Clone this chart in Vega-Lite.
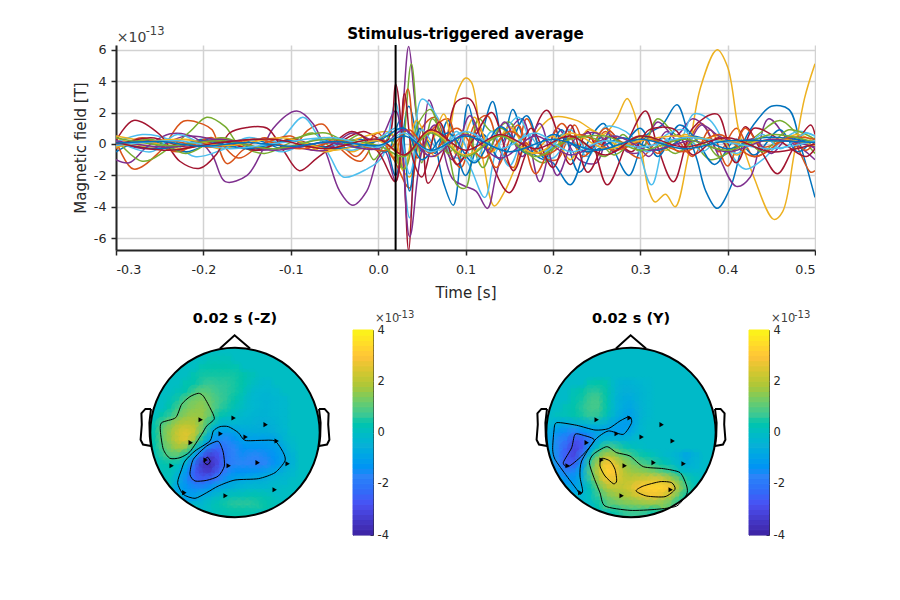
{"$schema":"https://vega.github.io/schema/vega-lite/v6.json","background":"white","padding":{"left":73,"top":26,"right":0,"bottom":0},"autosize":{"type":"pad"},"bounds":"flush","spacing":80,
"config":{"font":"DejaVu Sans","axis":{"labelFont":"DejaVu Sans","titleFont":"DejaVu Sans","labelColor":"#262626","titleColor":"#262626"},"view":{"stroke":null},"title":{"font":"DejaVu Sans"}},
"datasets":{
"lines":[
{"s":"a","t":-0.3,"v":-0.5},{"s":"a","t":-0.27,"v":0.2},{"s":"a","t":-0.24,"v":-0.3},{"s":"a","t":-0.2,"v":0.3},{"s":"a","t":-0.17,"v":-0.2},{"s":"a","t":-0.14,"v":0.25},{"s":"a","t":-0.11,"v":-0.3},{"s":"a","t":-0.08,"v":-0.1},{"s":"a","t":-0.05,"v":0.3},{"s":"a","t":-0.02,"v":-0.2},{"s":"a","t":0.005,"v":0.3},{"s":"a","t":0.02,"v":-2},{"s":"a","t":0.035,"v":2.4},{"s":"a","t":0.05,"v":-0.5},{"s":"a","t":0.06,"v":0.9},{"s":"a","t":0.075,"v":-2.5},{"s":"a","t":0.086,"v":-3.9},{"s":"a","t":0.095,"v":-0.5},{"s":"a","t":0.103,"v":2.5},{"s":"a","t":0.115,"v":0.3},{"s":"a","t":0.131,"v":2.7},{"s":"a","t":0.143,"v":0.2},{"s":"a","t":0.154,"v":2.2},{"s":"a","t":0.17,"v":-0.2},{"s":"a","t":0.185,"v":-0.9},{"s":"a","t":0.2,"v":-1.2},{"s":"a","t":0.22,"v":-2.6},{"s":"a","t":0.24,"v":0.1},{"s":"a","t":0.258,"v":1.3},{"s":"a","t":0.27,"v":-0.4},{"s":"a","t":0.287,"v":-2},{"s":"a","t":0.3,"v":-0.3},{"s":"a","t":0.308,"v":0.6},{"s":"a","t":0.325,"v":1.2},{"s":"a","t":0.342,"v":2.5},{"s":"a","t":0.355,"v":0.6},{"s":"a","t":0.365,"v":-1},{"s":"a","t":0.375,"v":-3},{"s":"a","t":0.388,"v":-4.1},{"s":"a","t":0.403,"v":-2.8},{"s":"a","t":0.419,"v":0.2},{"s":"a","t":0.435,"v":1.6},{"s":"a","t":0.45,"v":2.4},{"s":"a","t":0.47,"v":2.2},{"s":"a","t":0.484,"v":-0.2},{"s":"a","t":0.5,"v":-3.4},
{"s":"b","t":-0.3,"v":0.2},{"s":"b","t":-0.28,"v":-1.6},{"s":"b","t":-0.25,"v":-0.5},{"s":"b","t":-0.223,"v":1.45},{"s":"b","t":-0.2,"v":1.25},{"s":"b","t":-0.19,"v":0.9},{"s":"b","t":-0.173,"v":-1.25},{"s":"b","t":-0.155,"v":-0.4},{"s":"b","t":-0.13,"v":0.4},{"s":"b","t":-0.1,"v":-0.3},{"s":"b","t":-0.08,"v":0.9},{"s":"b","t":-0.063,"v":1.25},{"s":"b","t":-0.045,"v":-0.2},{"s":"b","t":-0.02,"v":-1.1},{"s":"b","t":0,"v":0.4},{"s":"b","t":0.018,"v":-1},{"s":"b","t":0.036,"v":-2.8},{"s":"b","t":0.05,"v":1},{"s":"b","t":0.065,"v":1.7},{"s":"b","t":0.08,"v":-0.3},{"s":"b","t":0.095,"v":-1.5},{"s":"b","t":0.11,"v":1.2},{"s":"b","t":0.125,"v":1.8},{"s":"b","t":0.14,"v":-0.5},{"s":"b","t":0.155,"v":-1.5},{"s":"b","t":0.17,"v":1.6},{"s":"b","t":0.19,"v":-0.8},{"s":"b","t":0.205,"v":-1},{"s":"b","t":0.225,"v":1.2},{"s":"b","t":0.24,"v":-0.6},{"s":"b","t":0.26,"v":0.8},{"s":"b","t":0.28,"v":-0.2},{"s":"b","t":0.3,"v":-0.9},{"s":"b","t":0.325,"v":0.4},{"s":"b","t":0.345,"v":-0.5},{"s":"b","t":0.37,"v":1.3},{"s":"b","t":0.39,"v":-0.5},{"s":"b","t":0.41,"v":1},{"s":"b","t":0.43,"v":-0.8},{"s":"b","t":0.45,"v":-0.3},{"s":"b","t":0.47,"v":0.5},{"s":"b","t":0.495,"v":-1.8},{"s":"b","t":0.5,"v":-1.7},
{"s":"c","t":-0.3,"v":0.4},{"s":"c","t":-0.26,"v":-0.2},{"s":"c","t":-0.22,"v":0.3},{"s":"c","t":-0.18,"v":-0.3},{"s":"c","t":-0.14,"v":0.3},{"s":"c","t":-0.1,"v":-0.2},{"s":"c","t":-0.06,"v":0.4},{"s":"c","t":-0.03,"v":-0.5},{"s":"c","t":0,"v":0.3},{"s":"c","t":0.02,"v":-1},{"s":"c","t":0.036,"v":-2.1},{"s":"c","t":0.05,"v":0.5},{"s":"c","t":0.065,"v":-0.8},{"s":"c","t":0.08,"v":0.5},{"s":"c","t":0.09,"v":3.2},{"s":"c","t":0.1,"v":4.2},{"s":"c","t":0.107,"v":3.9},{"s":"c","t":0.12,"v":-1},{"s":"c","t":0.133,"v":-3.95},{"s":"c","t":0.145,"v":-3},{"s":"c","t":0.166,"v":-0.4},{"s":"c","t":0.185,"v":1},{"s":"c","t":0.2,"v":1.7},{"s":"c","t":0.227,"v":1.5},{"s":"c","t":0.245,"v":0.9},{"s":"c","t":0.258,"v":0.6},{"s":"c","t":0.272,"v":1.5},{"s":"c","t":0.285,"v":2.9},{"s":"c","t":0.293,"v":2},{"s":"c","t":0.3,"v":0.2},{"s":"c","t":0.31,"v":-3},{"s":"c","t":0.317,"v":-3.7},{"s":"c","t":0.329,"v":-3.2},{"s":"c","t":0.34,"v":-4},{"s":"c","t":0.354,"v":-1},{"s":"c","t":0.369,"v":3.6},{"s":"c","t":0.388,"v":6},{"s":"c","t":0.4,"v":4.9},{"s":"c","t":0.413,"v":0.8},{"s":"c","t":0.43,"v":-2.1},{"s":"c","t":0.453,"v":-4.8},{"s":"c","t":0.463,"v":-4.3},{"s":"c","t":0.476,"v":-0.7},{"s":"c","t":0.488,"v":2.9},{"s":"c","t":0.5,"v":5.1},
{"s":"d","t":-0.3,"v":-1},{"s":"d","t":-0.285,"v":-1.2},{"s":"d","t":-0.265,"v":-0.2},{"s":"d","t":-0.238,"v":0.65},{"s":"d","t":-0.21,"v":0.4},{"s":"d","t":-0.19,"v":-0.7},{"s":"d","t":-0.175,"v":-2.4},{"s":"d","t":-0.15,"v":-2},{"s":"d","t":-0.135,"v":-0.7},{"s":"d","t":-0.12,"v":1},{"s":"d","t":-0.093,"v":2.1},{"s":"d","t":-0.074,"v":1.25},{"s":"d","t":-0.059,"v":-0.65},{"s":"d","t":-0.044,"v":-3},{"s":"d","t":-0.029,"v":-3.9},{"s":"d","t":-0.013,"v":-3},{"s":"d","t":0,"v":-0.9},{"s":"d","t":0.008,"v":-0.5},{"s":"d","t":0.02,"v":-2.4},{"s":"d","t":0.028,"v":2},{"s":"d","t":0.035,"v":6.2},{"s":"d","t":0.043,"v":2.2},{"s":"d","t":0.05,"v":-0.2},{"s":"d","t":0.058,"v":2.8},{"s":"d","t":0.07,"v":0.8},{"s":"d","t":0.085,"v":-2.2},{"s":"d","t":0.1,"v":-2.7},{"s":"d","t":0.112,"v":-3},{"s":"d","t":0.125,"v":-4.1},{"s":"d","t":0.135,"v":-2},{"s":"d","t":0.15,"v":0.8},{"s":"d","t":0.165,"v":1.6},{"s":"d","t":0.185,"v":-2.4},{"s":"d","t":0.205,"v":1},{"s":"d","t":0.23,"v":-1},{"s":"d","t":0.25,"v":-1.2},{"s":"d","t":0.265,"v":0.8},{"s":"d","t":0.285,"v":-0.5},{"s":"d","t":0.3,"v":-0.5},{"s":"d","t":0.32,"v":1.4},{"s":"d","t":0.34,"v":0.5},{"s":"d","t":0.36,"v":1.6},{"s":"d","t":0.375,"v":1},{"s":"d","t":0.39,"v":-0.8},{"s":"d","t":0.41,"v":-2.7},{"s":"d","t":0.426,"v":-2.1},{"s":"d","t":0.447,"v":1.6},{"s":"d","t":0.47,"v":0.2},{"s":"d","t":0.485,"v":-0.3},{"s":"d","t":0.5,"v":-1},
{"s":"e","t":-0.3,"v":0.3},{"s":"e","t":-0.27,"v":-1.1},{"s":"e","t":-0.24,"v":-0.3},{"s":"e","t":-0.215,"v":0.8},{"s":"e","t":-0.196,"v":1.7},{"s":"e","t":-0.175,"v":1.1},{"s":"e","t":-0.16,"v":0},{"s":"e","t":-0.13,"v":-0.6},{"s":"e","t":-0.1,"v":0.1},{"s":"e","t":-0.075,"v":0.7},{"s":"e","t":-0.05,"v":-0.3},{"s":"e","t":-0.02,"v":0.6},{"s":"e","t":-0.005,"v":-1},{"s":"e","t":0.015,"v":0.6},{"s":"e","t":0.025,"v":-1.5},{"s":"e","t":0.038,"v":5.1},{"s":"e","t":0.05,"v":-1.2},{"s":"e","t":0.062,"v":1.6},{"s":"e","t":0.08,"v":-0.5},{"s":"e","t":0.09,"v":-2.6},{"s":"e","t":0.1,"v":-2.8},{"s":"e","t":0.115,"v":1.6},{"s":"e","t":0.13,"v":0.8},{"s":"e","t":0.15,"v":1.4},{"s":"e","t":0.17,"v":-0.5},{"s":"e","t":0.19,"v":-1.2},{"s":"e","t":0.21,"v":0.6},{"s":"e","t":0.23,"v":0.3},{"s":"e","t":0.26,"v":-0.8},{"s":"e","t":0.28,"v":0.6},{"s":"e","t":0.3,"v":-0.5},{"s":"e","t":0.32,"v":1.6},{"s":"e","t":0.34,"v":0.6},{"s":"e","t":0.36,"v":0.1},{"s":"e","t":0.38,"v":-1},{"s":"e","t":0.4,"v":-0.6},{"s":"e","t":0.43,"v":0.4},{"s":"e","t":0.46,"v":1.5},{"s":"e","t":0.48,"v":0.6},{"s":"e","t":0.5,"v":-0.6},
{"s":"f","t":-0.3,"v":0.1},{"s":"f","t":-0.27,"v":0.6},{"s":"f","t":-0.24,"v":0.3},{"s":"f","t":-0.21,"v":-0.8},{"s":"f","t":-0.18,"v":-0.4},{"s":"f","t":-0.15,"v":0.4},{"s":"f","t":-0.115,"v":0.2},{"s":"f","t":-0.086,"v":1.7},{"s":"f","t":-0.07,"v":0.6},{"s":"f","t":-0.055,"v":-0.8},{"s":"f","t":-0.04,"v":-2.1},{"s":"f","t":-0.013,"v":-1.6},{"s":"f","t":0.005,"v":-0.8},{"s":"f","t":0.02,"v":2.6},{"s":"f","t":0.036,"v":-4.7},{"s":"f","t":0.05,"v":2.85},{"s":"f","t":0.07,"v":1.5},{"s":"f","t":0.085,"v":-0.8},{"s":"f","t":0.1,"v":-1},{"s":"f","t":0.122,"v":-3.4},{"s":"f","t":0.135,"v":-0.5},{"s":"f","t":0.16,"v":1.7},{"s":"f","t":0.18,"v":-0.4},{"s":"f","t":0.2,"v":-0.9},{"s":"f","t":0.22,"v":0.3},{"s":"f","t":0.24,"v":-0.8},{"s":"f","t":0.26,"v":1.1},{"s":"f","t":0.29,"v":0.5},{"s":"f","t":0.313,"v":-2.6},{"s":"f","t":0.33,"v":0.3},{"s":"f","t":0.345,"v":0.2},{"s":"f","t":0.361,"v":1.9},{"s":"f","t":0.38,"v":1.5},{"s":"f","t":0.4,"v":-0.3},{"s":"f","t":0.42,"v":-1.6},{"s":"f","t":0.44,"v":-1},{"s":"f","t":0.46,"v":0.1},{"s":"f","t":0.48,"v":0.8},{"s":"f","t":0.5,"v":0.5},
{"s":"g","t":-0.3,"v":0.2},{"s":"g","t":-0.28,"v":1.5},{"s":"g","t":-0.25,"v":0.6},{"s":"g","t":-0.227,"v":-1.1},{"s":"g","t":-0.204,"v":-1.55},{"s":"g","t":-0.185,"v":-0.65},{"s":"g","t":-0.17,"v":0.7},{"s":"g","t":-0.15,"v":1.05},{"s":"g","t":-0.127,"v":1},{"s":"g","t":-0.108,"v":-0.45},{"s":"g","t":-0.09,"v":-1.7},{"s":"g","t":-0.07,"v":-0.9},{"s":"g","t":-0.047,"v":0},{"s":"g","t":-0.017,"v":0.8},{"s":"g","t":0.01,"v":0.2},{"s":"g","t":0.02,"v":3.8},{"s":"g","t":0.028,"v":0},{"s":"g","t":0.035,"v":-6.8},{"s":"g","t":0.042,"v":-1},{"s":"g","t":0.05,"v":1},{"s":"g","t":0.057,"v":-2.5},{"s":"g","t":0.075,"v":-0.5},{"s":"g","t":0.09,"v":2.7},{"s":"g","t":0.105,"v":2.85},{"s":"g","t":0.125,"v":-0.5},{"s":"g","t":0.15,"v":-3.1},{"s":"g","t":0.17,"v":-0.5},{"s":"g","t":0.193,"v":2.15},{"s":"g","t":0.22,"v":-1.3},{"s":"g","t":0.24,"v":0.8},{"s":"g","t":0.262,"v":-2.6},{"s":"g","t":0.285,"v":0.1},{"s":"g","t":0.306,"v":2.1},{"s":"g","t":0.32,"v":-0.2},{"s":"g","t":0.338,"v":-2.4},{"s":"g","t":0.36,"v":1},{"s":"g","t":0.388,"v":1.9},{"s":"g","t":0.405,"v":-0.5},{"s":"g","t":0.42,"v":1.1},{"s":"g","t":0.44,"v":-0.6},{"s":"g","t":0.457,"v":-1.9},{"s":"g","t":0.475,"v":-0.3},{"s":"g","t":0.495,"v":1.2},{"s":"g","t":0.5,"v":0.6},
{"s":"h","t":-0.3,"v":-0.2},{"s":"h","t":-0.26,"v":0.2},{"s":"h","t":-0.22,"v":-0.5},{"s":"h","t":-0.18,"v":0.3},{"s":"h","t":-0.14,"v":-0.3},{"s":"h","t":-0.1,"v":0.2},{"s":"h","t":-0.06,"v":-0.2},{"s":"h","t":-0.02,"v":0.3},{"s":"h","t":0.01,"v":-0.5},{"s":"h","t":0.025,"v":1.5},{"s":"h","t":0.036,"v":-3},{"s":"h","t":0.048,"v":1},{"s":"h","t":0.065,"v":-0.6},{"s":"h","t":0.08,"v":1.5},{"s":"h","t":0.1,"v":-2},{"s":"h","t":0.12,"v":0.6},{"s":"h","t":0.14,"v":-1},{"s":"h","t":0.17,"v":1.8},{"s":"h","t":0.19,"v":-0.9},{"s":"h","t":0.21,"v":0.9},{"s":"h","t":0.23,"v":-1.8},{"s":"h","t":0.255,"v":0.4},{"s":"h","t":0.275,"v":-0.3},{"s":"h","t":0.3,"v":1},{"s":"h","t":0.32,"v":-0.8},{"s":"h","t":0.345,"v":1.2},{"s":"h","t":0.365,"v":0.2},{"s":"h","t":0.385,"v":-1.3},{"s":"h","t":0.41,"v":0.3},{"s":"h","t":0.43,"v":-0.7},{"s":"h","t":0.46,"v":0.9},{"s":"h","t":0.48,"v":-0.5},{"s":"h","t":0.5,"v":0.4},
{"s":"i","t":-0.3,"v":-0.3},{"s":"i","t":-0.27,"v":0.4},{"s":"i","t":-0.23,"v":-0.5},{"s":"i","t":-0.19,"v":0.4},{"s":"i","t":-0.16,"v":-0.9},{"s":"i","t":-0.135,"v":-0.1},{"s":"i","t":-0.1,"v":0.5},{"s":"i","t":-0.075,"v":-0.4},{"s":"i","t":-0.05,"v":0.3},{"s":"i","t":-0.025,"v":-0.8},{"s":"i","t":0,"v":0.7},{"s":"i","t":0.018,"v":-0.9},{"s":"i","t":0.034,"v":3.5},{"s":"i","t":0.045,"v":-0.9},{"s":"i","t":0.06,"v":0.8},{"s":"i","t":0.08,"v":1.6},{"s":"i","t":0.095,"v":-1},{"s":"i","t":0.115,"v":1},{"s":"i","t":0.135,"v":-1.5},{"s":"i","t":0.16,"v":1.2},{"s":"i","t":0.18,"v":-1.9},{"s":"i","t":0.21,"v":1.3},{"s":"i","t":0.235,"v":-0.8},{"s":"i","t":0.26,"v":1},{"s":"i","t":0.28,"v":0.1},{"s":"i","t":0.3,"v":0.5},{"s":"i","t":0.32,"v":-0.6},{"s":"i","t":0.34,"v":0.3},{"s":"i","t":0.36,"v":-0.8},{"s":"i","t":0.38,"v":0.9},{"s":"i","t":0.4,"v":-1.4},{"s":"i","t":0.42,"v":1},{"s":"i","t":0.44,"v":-0.2},{"s":"i","t":0.47,"v":0.3},{"s":"i","t":0.49,"v":-0.4},{"s":"i","t":0.5,"v":0.2},
{"s":"j","t":-0.3,"v":0.5},{"s":"j","t":-0.26,"v":0.1},{"s":"j","t":-0.22,"v":-0.3},{"s":"j","t":-0.18,"v":0.4},{"s":"j","t":-0.14,"v":-0.4},{"s":"j","t":-0.1,"v":0.3},{"s":"j","t":-0.06,"v":-0.5},{"s":"j","t":-0.02,"v":0.4},{"s":"j","t":0.015,"v":0.7},{"s":"j","t":0.03,"v":-1.5},{"s":"j","t":0.044,"v":1.5},{"s":"j","t":0.06,"v":0.1},{"s":"j","t":0.075,"v":1.9},{"s":"j","t":0.09,"v":-0.7},{"s":"j","t":0.11,"v":1.7},{"s":"j","t":0.13,"v":-0.5},{"s":"j","t":0.15,"v":1.1},{"s":"j","t":0.175,"v":-0.6},{"s":"j","t":0.2,"v":0.5},{"s":"j","t":0.22,"v":-1},{"s":"j","t":0.24,"v":0.9},{"s":"j","t":0.26,"v":0.3},{"s":"j","t":0.28,"v":-0.1},{"s":"j","t":0.31,"v":0.5},{"s":"j","t":0.33,"v":-0.4},{"s":"j","t":0.35,"v":0.6},{"s":"j","t":0.37,"v":0.3},{"s":"j","t":0.39,"v":0.5},{"s":"j","t":0.41,"v":-0.7},{"s":"j","t":0.43,"v":0.1},{"s":"j","t":0.46,"v":0.2},{"s":"j","t":0.48,"v":0.6},{"s":"j","t":0.5,"v":0.1},
{"s":"k","t":-0.3,"v":0.1},{"s":"k","t":-0.26,"v":-0.3},{"s":"k","t":-0.22,"v":0.5},{"s":"k","t":-0.18,"v":0.2},{"s":"k","t":-0.14,"v":-0.4},{"s":"k","t":-0.1,"v":-0.2},{"s":"k","t":-0.06,"v":-0.4},{"s":"k","t":-0.03,"v":0.7},{"s":"k","t":0,"v":0.2},{"s":"k","t":0.02,"v":2.1},{"s":"k","t":0.036,"v":-5.9},{"s":"k","t":0.05,"v":-0.5},{"s":"k","t":0.065,"v":1.2},{"s":"k","t":0.085,"v":-1},{"s":"k","t":0.105,"v":1.8},{"s":"k","t":0.125,"v":-0.4},{"s":"k","t":0.145,"v":1.4},{"s":"k","t":0.165,"v":-0.8},{"s":"k","t":0.185,"v":1.3},{"s":"k","t":0.205,"v":-2},{"s":"k","t":0.225,"v":0.3},{"s":"k","t":0.25,"v":0.7},{"s":"k","t":0.27,"v":-0.5},{"s":"k","t":0.29,"v":0.3},{"s":"k","t":0.31,"v":-0.8},{"s":"k","t":0.33,"v":0.8},{"s":"k","t":0.35,"v":-0.3},{"s":"k","t":0.37,"v":1.2},{"s":"k","t":0.39,"v":0.5},{"s":"k","t":0.41,"v":0.1},{"s":"k","t":0.43,"v":0.3},{"s":"k","t":0.45,"v":-0.6},{"s":"k","t":0.47,"v":0.4},{"s":"k","t":0.5,"v":-0.3},
{"s":"l","t":-0.3,"v":-0.2},{"s":"l","t":-0.26,"v":0.3},{"s":"l","t":-0.22,"v":-0.6},{"s":"l","t":-0.18,"v":0.4},{"s":"l","t":-0.14,"v":-0.2},{"s":"l","t":-0.1,"v":0.3},{"s":"l","t":-0.06,"v":0.7},{"s":"l","t":-0.02,"v":-0.3},{"s":"l","t":0.01,"v":0.5},{"s":"l","t":0.03,"v":-1.6},{"s":"l","t":0.045,"v":1.2},{"s":"l","t":0.06,"v":2.2},{"s":"l","t":0.08,"v":-0.6},{"s":"l","t":0.1,"v":0.8},{"s":"l","t":0.12,"v":-1.5},{"s":"l","t":0.14,"v":1},{"s":"l","t":0.17,"v":-0.6},{"s":"l","t":0.2,"v":-0.2},{"s":"l","t":0.22,"v":0.4},{"s":"l","t":0.25,"v":0.3},{"s":"l","t":0.27,"v":-0.7},{"s":"l","t":0.3,"v":0.5},{"s":"l","t":0.32,"v":0.2},{"s":"l","t":0.34,"v":-0.6},{"s":"l","t":0.37,"v":0.4},{"s":"l","t":0.39,"v":-0.8},{"s":"l","t":0.42,"v":0.2},{"s":"l","t":0.44,"v":-0.5},{"s":"l","t":0.47,"v":0.9},{"s":"l","t":0.5,"v":0.3},
{"s":"m","t":-0.3,"v":0.2},{"s":"m","t":-0.26,"v":-0.5},{"s":"m","t":-0.23,"v":0.6},{"s":"m","t":-0.19,"v":-0.2},{"s":"m","t":-0.15,"v":0.3},{"s":"m","t":-0.11,"v":-0.5},{"s":"m","t":-0.07,"v":0.3},{"s":"m","t":-0.03,"v":-0.4},{"s":"m","t":0.005,"v":0.5},{"s":"m","t":0.022,"v":1},{"s":"m","t":0.036,"v":-1.9},{"s":"m","t":0.05,"v":0.9},{"s":"m","t":0.07,"v":-0.4},{"s":"m","t":0.09,"v":0.8},{"s":"m","t":0.11,"v":-1.1},{"s":"m","t":0.13,"v":0.8},{"s":"m","t":0.15,"v":-1.4},{"s":"m","t":0.17,"v":0.7},{"s":"m","t":0.19,"v":-0.5},{"s":"m","t":0.22,"v":0.9},{"s":"m","t":0.24,"v":-0.4},{"s":"m","t":0.27,"v":0.5},{"s":"m","t":0.29,"v":0.1},{"s":"m","t":0.31,"v":-0.5},{"s":"m","t":0.33,"v":0.6},{"s":"m","t":0.35,"v":0.9},{"s":"m","t":0.37,"v":-0.5},{"s":"m","t":0.39,"v":0.2},{"s":"m","t":0.41,"v":-0.6},{"s":"m","t":0.44,"v":0.6},{"s":"m","t":0.46,"v":-0.3},{"s":"m","t":0.49,"v":0.7},{"s":"m","t":0.5,"v":0.5},
{"s":"n","t":-0.3,"v":-0.1},{"s":"n","t":-0.26,"v":0.4},{"s":"n","t":-0.22,"v":-0.2},{"s":"n","t":-0.18,"v":0.2},{"s":"n","t":-0.14,"v":-0.4},{"s":"n","t":-0.1,"v":0.3},{"s":"n","t":-0.06,"v":-0.2},{"s":"n","t":-0.03,"v":0.8},{"s":"n","t":0,"v":-0.5},{"s":"n","t":0.02,"v":-2.4},{"s":"n","t":0.03,"v":3.2},{"s":"n","t":0.04,"v":-1},{"s":"n","t":0.05,"v":-2.1},{"s":"n","t":0.07,"v":1.4},{"s":"n","t":0.09,"v":-1.3},{"s":"n","t":0.11,"v":0.4},{"s":"n","t":0.13,"v":2},{"s":"n","t":0.155,"v":-1.7},{"s":"n","t":0.175,"v":1},{"s":"n","t":0.2,"v":-1.5},{"s":"n","t":0.22,"v":1.2},{"s":"n","t":0.24,"v":-1.8},{"s":"n","t":0.265,"v":0.5},{"s":"n","t":0.29,"v":-0.5},{"s":"n","t":0.31,"v":0.9},{"s":"n","t":0.34,"v":0.9},{"s":"n","t":0.36,"v":-0.7},{"s":"n","t":0.39,"v":0.4},{"s":"n","t":0.41,"v":-1.2},{"s":"n","t":0.43,"v":1},{"s":"n","t":0.45,"v":0.6},{"s":"n","t":0.47,"v":-0.2},{"s":"n","t":0.49,"v":-0.8},{"s":"n","t":0.5,"v":-0.3},
{"s":"o","t":-0.3,"v":0.1},{"s":"o","t":-0.25,"v":-0.3},{"s":"o","t":-0.2,"v":0.2},{"s":"o","t":-0.15,"v":-0.3},{"s":"o","t":-0.1,"v":0.2},{"s":"o","t":-0.05,"v":-0.3},{"s":"o","t":0,"v":0.2},{"s":"o","t":0.03,"v":1},{"s":"o","t":0.05,"v":-1},{"s":"o","t":0.08,"v":0.7},{"s":"o","t":0.11,"v":-1.2},{"s":"o","t":0.14,"v":1.1},{"s":"o","t":0.17,"v":-0.6},{"s":"o","t":0.2,"v":0.6},{"s":"o","t":0.24,"v":-0.5},{"s":"o","t":0.28,"v":0.4},{"s":"o","t":0.32,"v":-0.4},{"s":"o","t":0.36,"v":0.5},{"s":"o","t":0.4,"v":-0.3},{"s":"o","t":0.44,"v":0.4},{"s":"o","t":0.5,"v":0.1},
{"s":"p","t":-0.3,"v":0},{"s":"p","t":-0.24,"v":0.2},{"s":"p","t":-0.19,"v":-0.2},{"s":"p","t":-0.14,"v":0.3},{"s":"p","t":-0.09,"v":-0.3},{"s":"p","t":-0.04,"v":0.2},{"s":"p","t":0.01,"v":-0.4},{"s":"p","t":0.035,"v":0.9},{"s":"p","t":0.06,"v":-0.6},{"s":"p","t":0.09,"v":1},{"s":"p","t":0.12,"v":-0.9},{"s":"p","t":0.15,"v":0.8},{"s":"p","t":0.19,"v":-0.7},{"s":"p","t":0.23,"v":0.6},{"s":"p","t":0.27,"v":-0.4},{"s":"p","t":0.31,"v":0.3},{"s":"p","t":0.35,"v":-0.5},{"s":"p","t":0.39,"v":0.6},{"s":"p","t":0.43,"v":-0.8},{"s":"p","t":0.47,"v":0.4},{"s":"p","t":0.5,"v":0.3},
{"s":"q","t":-0.3,"v":-0.2},{"s":"q","t":-0.23,"v":0.3},{"s":"q","t":-0.17,"v":-0.1},{"s":"q","t":-0.11,"v":0.4},{"s":"q","t":-0.05,"v":-0.4},{"s":"q","t":0,"v":0.2},{"s":"q","t":0.03,"v":-0.7},{"s":"q","t":0.06,"v":0.8},{"s":"q","t":0.1,"v":-0.7},{"s":"q","t":0.14,"v":0.6},{"s":"q","t":0.18,"v":-0.6},{"s":"q","t":0.22,"v":0.7},{"s":"q","t":0.26,"v":-0.3},{"s":"q","t":0.3,"v":0.2},{"s":"q","t":0.34,"v":0.5},{"s":"q","t":0.38,"v":0.3},{"s":"q","t":0.42,"v":0.1},{"s":"q","t":0.46,"v":0.3},{"s":"q","t":0.5,"v":-0.1},
{"s":"r","t":-0.3,"v":0.2},{"s":"r","t":-0.24,"v":-0.2},{"s":"r","t":-0.18,"v":0.3},{"s":"r","t":-0.12,"v":-0.4},{"s":"r","t":-0.06,"v":0.1},{"s":"r","t":0,"v":-0.3},{"s":"r","t":0.03,"v":0.9},{"s":"r","t":0.06,"v":-0.8},{"s":"r","t":0.1,"v":0.6},{"s":"r","t":0.14,"v":-0.9},{"s":"r","t":0.18,"v":0.5},{"s":"r","t":0.22,"v":-0.7},{"s":"r","t":0.27,"v":0.5},{"s":"r","t":0.31,"v":-0.4},{"s":"r","t":0.36,"v":0.2},{"s":"r","t":0.4,"v":-0.5},{"s":"r","t":0.45,"v":0.3},{"s":"r","t":0.5,"v":-0.2},
{"s":"s","t":-0.3,"v":0.4},{"s":"s","t":-0.24,"v":-0.1},{"s":"s","t":-0.18,"v":0.2},{"s":"s","t":-0.12,"v":-0.3},{"s":"s","t":-0.06,"v":0.3},{"s":"s","t":0,"v":-0.1},{"s":"s","t":0.03,"v":-0.8},{"s":"s","t":0.06,"v":0.7},{"s":"s","t":0.1,"v":-0.8},{"s":"s","t":0.14,"v":0.5},{"s":"s","t":0.18,"v":-0.8},{"s":"s","t":0.22,"v":0.3},{"s":"s","t":0.26,"v":0.5},{"s":"s","t":0.3,"v":-0.4},{"s":"s","t":0.35,"v":0.3},{"s":"s","t":0.4,"v":-0.4},{"s":"s","t":0.45,"v":0.6},{"s":"s","t":0.5,"v":0.1},
{"s":"t","t":-0.3,"v":-0.1},{"s":"t","t":-0.23,"v":0.2},{"s":"t","t":-0.17,"v":-0.3},{"s":"t","t":-0.11,"v":0.1},{"s":"t","t":-0.05,"v":0.4},{"s":"t","t":0,"v":-0.2},{"s":"t","t":0.03,"v":0.7},{"s":"t","t":0.06,"v":-0.5},{"s":"t","t":0.1,"v":0.8},{"s":"t","t":0.14,"v":-0.3},{"s":"t","t":0.18,"v":0.7},{"s":"t","t":0.22,"v":-0.5},{"s":"t","t":0.26,"v":0.2},{"s":"t","t":0.3,"v":-0.2},{"s":"t","t":0.35,"v":0.4},{"s":"t","t":0.4,"v":0.1},{"s":"t","t":0.45,"v":-0.3},{"s":"t","t":0.5,"v":0.2},
{"s":"u","t":-0.3,"v":0.1},{"s":"u","t":-0.24,"v":-0.4},{"s":"u","t":-0.18,"v":0.1},{"s":"u","t":-0.12,"v":0.3},{"s":"u","t":-0.06,"v":-0.3},{"s":"u","t":0,"v":0.3},{"s":"u","t":0.03,"v":-0.7},{"s":"u","t":0.06,"v":0.9},{"s":"u","t":0.1,"v":-0.4},{"s":"u","t":0.14,"v":0.6},{"s":"u","t":0.18,"v":-0.3},{"s":"u","t":0.22,"v":0.5},{"s":"u","t":0.26,"v":-0.7},{"s":"u","t":0.3,"v":0.5},{"s":"u","t":0.35,"v":-0.2},{"s":"u","t":0.4,"v":0.4},{"s":"u","t":0.45,"v":-0.5},{"s":"u","t":0.5,"v":0},
{"s":"v","t":-0.3,"v":0.05},{"s":"v","t":-0.25,"v":0.15},{"s":"v","t":-0.2,"v":-0.15},{"s":"v","t":-0.15,"v":0.1},{"s":"v","t":-0.1,"v":-0.15},{"s":"v","t":-0.05,"v":0.15},{"s":"v","t":0,"v":-0.1},{"s":"v","t":0.03,"v":0.5},{"s":"v","t":0.06,"v":-0.4},{"s":"v","t":0.1,"v":0.5},{"s":"v","t":0.15,"v":-0.5},{"s":"v","t":0.2,"v":0.3},{"s":"v","t":0.25,"v":-0.4},{"s":"v","t":0.3,"v":0.3},{"s":"v","t":0.35,"v":-0.3},{"s":"v","t":0.4,"v":0.2},{"s":"v","t":0.45,"v":0.2},{"s":"v","t":0.5,"v":0.1}
],
"L":[
{"x":-3,"y":9,"v":0.1},{"x":-2,"y":9,"v":0.1},{"x":-1,"y":9,"v":0.1},
{"x":-4,"y":8,"v":0.2},{"x":-3,"y":8,"v":0.3},{"x":-2,"y":8,"v":0.3},{"x":-1,"y":8,"v":0.3},{"x":0,"y":8,"v":0.2},
{"x":-5,"y":7,"v":0.2},{"x":-4,"y":7,"v":0.4},{"x":-3,"y":7,"v":0.4},{"x":-2,"y":7,"v":0.4},{"x":-1,"y":7,"v":0.4},{"x":0,"y":7,"v":0.4},{"x":1,"y":7,"v":0.3},{"x":2,"y":7,"v":0.1},
{"x":-6,"y":6,"v":0.2},{"x":-5,"y":6,"v":0.3},{"x":-4,"y":6,"v":0.5},{"x":-3,"y":6,"v":0.6},{"x":-2,"y":6,"v":0.5},{"x":-1,"y":6,"v":0.5},{"x":0,"y":6,"v":0.4},{"x":1,"y":6,"v":0.3},{"x":2,"y":6,"v":0},{"x":3,"y":6,"v":-0.2},{"x":4,"y":6,"v":-0.3},
{"x":-7,"y":5,"v":0.1},{"x":-6,"y":5,"v":0.3},{"x":-5,"y":5,"v":0.8},{"x":-4,"y":5,"v":1},{"x":-3,"y":5,"v":0.8},{"x":-2,"y":5,"v":0.6},{"x":-1,"y":5,"v":0.5},{"x":0,"y":5,"v":0.4},{"x":1,"y":5,"v":0.2},{"x":2,"y":5,"v":-0.2},{"x":3,"y":5,"v":-0.4},{"x":4,"y":5,"v":-0.4},{"x":5,"y":5,"v":-0.3},
{"x":-8,"y":4,"v":0.1},{"x":-7,"y":4,"v":0.4},{"x":-6,"y":4,"v":1},{"x":-5,"y":4,"v":1.2},{"x":-4,"y":4,"v":1.3},{"x":-3,"y":4,"v":1},{"x":-2,"y":4,"v":0.7},{"x":-1,"y":4,"v":0.5},{"x":0,"y":4,"v":0.3},{"x":1,"y":4,"v":0},{"x":2,"y":4,"v":-0.3},{"x":3,"y":4,"v":-0.4},{"x":4,"y":4,"v":-0.5},{"x":5,"y":4,"v":-0.4},{"x":6,"y":4,"v":-0.3},
{"x":-8,"y":3,"v":0.3},{"x":-7,"y":3,"v":0.8},{"x":-6,"y":3,"v":1.2},{"x":-5,"y":3,"v":1.4},{"x":-4,"y":3,"v":1.5},{"x":-3,"y":3,"v":1.1},{"x":-2,"y":3,"v":0.6},{"x":-1,"y":3,"v":0.4},{"x":0,"y":3,"v":0.1},{"x":1,"y":3,"v":-0.1},{"x":2,"y":3,"v":-0.3},{"x":3,"y":3,"v":-0.4},{"x":4,"y":3,"v":-0.5},{"x":5,"y":3,"v":-0.4},{"x":6,"y":3,"v":-0.3},
{"x":-9,"y":2,"v":0.3},{"x":-8,"y":2,"v":0.6},{"x":-7,"y":2,"v":1.1},{"x":-6,"y":2,"v":1.5},{"x":-5,"y":2,"v":1.6},{"x":-4,"y":2,"v":1.5},{"x":-3,"y":2,"v":1},{"x":-2,"y":2,"v":0.3},{"x":-1,"y":2,"v":0.1},{"x":0,"y":2,"v":-0.1},{"x":1,"y":2,"v":-0.3},{"x":2,"y":2,"v":-0.4},{"x":3,"y":2,"v":-0.5},{"x":4,"y":2,"v":-0.5},{"x":5,"y":2,"v":-0.4},{"x":6,"y":2,"v":-0.3},
{"x":-10,"y":1,"v":0.2},{"x":-9,"y":1,"v":0.9},{"x":-8,"y":1,"v":1.3},{"x":-7,"y":1,"v":1.8},{"x":-6,"y":1,"v":1.9},{"x":-5,"y":1,"v":1.8},{"x":-4,"y":1,"v":1.3},{"x":-3,"y":1,"v":0.4},{"x":-2,"y":1,"v":-0.3},{"x":-1,"y":1,"v":-0.5},{"x":0,"y":1,"v":-0.4},{"x":1,"y":1,"v":-0.5},{"x":2,"y":1,"v":-0.5},{"x":3,"y":1,"v":-0.6},{"x":4,"y":1,"v":-0.6},{"x":5,"y":1,"v":-0.5},{"x":6,"y":1,"v":-0.3},
{"x":-10,"y":0,"v":0.3},{"x":-9,"y":0,"v":1.1},{"x":-8,"y":0,"v":1.6},{"x":-7,"y":0,"v":2.2},{"x":-6,"y":0,"v":2.4},{"x":-5,"y":0,"v":2.1},{"x":-4,"y":0,"v":1},{"x":-3,"y":0,"v":-0.5},{"x":-2,"y":0,"v":-1.1},{"x":-1,"y":0,"v":-1.2},{"x":0,"y":0,"v":-1},{"x":1,"y":0,"v":-0.8},{"x":2,"y":0,"v":-0.7},{"x":3,"y":0,"v":-0.7},{"x":4,"y":0,"v":-0.7},{"x":5,"y":0,"v":-0.6},{"x":6,"y":0,"v":-0.4},
{"x":-10,"y":-1,"v":0.3},{"x":-9,"y":-1,"v":1},{"x":-8,"y":-1,"v":1.6},{"x":-7,"y":-1,"v":2.2},{"x":-6,"y":-1,"v":2.4},{"x":-5,"y":-1,"v":1.6},{"x":-4,"y":-1,"v":0.1},{"x":-3,"y":-1,"v":-1},{"x":-2,"y":-1,"v":-1.6},{"x":-1,"y":-1,"v":-1.7},{"x":0,"y":-1,"v":-1.5},{"x":1,"y":-1,"v":-1.1},{"x":2,"y":-1,"v":-1.1},{"x":3,"y":-1,"v":-1.1},{"x":4,"y":-1,"v":-1.1},{"x":5,"y":-1,"v":-1},{"x":6,"y":-1,"v":-0.5},{"x":7,"y":-1,"v":-0.2},
{"x":-10,"y":-2,"v":0.2},{"x":-9,"y":-2,"v":0.8},{"x":-8,"y":-2,"v":1.3},{"x":-7,"y":-2,"v":1.7},{"x":-6,"y":-2,"v":1.4},{"x":-5,"y":-2,"v":0.3},{"x":-4,"y":-2,"v":-1.1},{"x":-3,"y":-2,"v":-2.2},{"x":-2,"y":-2,"v":-2.5},{"x":-1,"y":-2,"v":-2},{"x":0,"y":-2,"v":-1.7},{"x":1,"y":-2,"v":-1.5},{"x":2,"y":-2,"v":-1.4},{"x":3,"y":-2,"v":-1.4},{"x":4,"y":-2,"v":-1.3},{"x":5,"y":-2,"v":-1.2},{"x":6,"y":-2,"v":-0.9},{"x":7,"y":-2,"v":-0.3},
{"x":-10,"y":-3,"v":0.1},{"x":-9,"y":-3,"v":0.5},{"x":-8,"y":-3,"v":0.9},{"x":-7,"y":-3,"v":0.8},{"x":-6,"y":-3,"v":0.2},{"x":-5,"y":-3,"v":-1.2},{"x":-4,"y":-3,"v":-2.6},{"x":-3,"y":-3,"v":-3.4},{"x":-2,"y":-3,"v":-2.9},{"x":-1,"y":-3,"v":-2.1},{"x":0,"y":-3,"v":-1.8},{"x":1,"y":-3,"v":-1.6},{"x":2,"y":-3,"v":-1.7},{"x":3,"y":-3,"v":-1.7},{"x":4,"y":-3,"v":-1.6},{"x":5,"y":-3,"v":-1.4},{"x":6,"y":-3,"v":-1.1},{"x":7,"y":-3,"v":-0.5},
{"x":-10,"y":-4,"v":0},{"x":-9,"y":-4,"v":0.2},{"x":-8,"y":-4,"v":0.3},{"x":-7,"y":-4,"v":0},{"x":-6,"y":-4,"v":-0.8},{"x":-5,"y":-4,"v":-2.3},{"x":-4,"y":-4,"v":-3.6},{"x":-3,"y":-4,"v":-3.8},{"x":-2,"y":-4,"v":-3},{"x":-1,"y":-4,"v":-2.1},{"x":0,"y":-4,"v":-1.8},{"x":1,"y":-4,"v":-1.7},{"x":2,"y":-4,"v":-1.8},{"x":3,"y":-4,"v":-1.9},{"x":4,"y":-4,"v":-1.7},{"x":5,"y":-4,"v":-1.4},{"x":6,"y":-4,"v":-1.1},{"x":7,"y":-4,"v":-0.5},
{"x":-9,"y":-5,"v":0.1},{"x":-8,"y":-5,"v":0.1},{"x":-7,"y":-5,"v":-0.4},{"x":-6,"y":-5,"v":-1.4},{"x":-5,"y":-5,"v":-2.7},{"x":-4,"y":-5,"v":-3.3},{"x":-3,"y":-5,"v":-3.4},{"x":-2,"y":-5,"v":-2.6},{"x":-1,"y":-5,"v":-1.8},{"x":0,"y":-5,"v":-1.5},{"x":1,"y":-5,"v":-1.5},{"x":2,"y":-5,"v":-1.4},{"x":3,"y":-5,"v":-1.3},{"x":4,"y":-5,"v":-1.1},{"x":5,"y":-5,"v":-0.9},{"x":6,"y":-5,"v":-0.6},{"x":7,"y":-5,"v":-0.3},
{"x":-9,"y":-6,"v":0},{"x":-8,"y":-6,"v":0},{"x":-7,"y":-6,"v":-0.8},{"x":-6,"y":-6,"v":-1.6},{"x":-5,"y":-6,"v":-2.5},{"x":-4,"y":-6,"v":-2.7},{"x":-3,"y":-6,"v":-2.4},{"x":-2,"y":-6,"v":-1.8},{"x":-1,"y":-6,"v":-1.3},{"x":0,"y":-6,"v":-1},{"x":1,"y":-6,"v":-0.9},{"x":2,"y":-6,"v":-0.8},{"x":3,"y":-6,"v":-0.7},{"x":4,"y":-6,"v":-0.6},{"x":5,"y":-6,"v":-0.4},{"x":6,"y":-6,"v":-0.3},
{"x":-7,"y":-7,"v":-0.9},{"x":-6,"y":-7,"v":-1.4},{"x":-5,"y":-7,"v":-1.6},{"x":-4,"y":-7,"v":-1.6},{"x":-3,"y":-7,"v":-1.3},{"x":-2,"y":-7,"v":-0.9},{"x":-1,"y":-7,"v":-0.7},{"x":0,"y":-7,"v":-0.5},{"x":1,"y":-7,"v":-0.4},{"x":2,"y":-7,"v":-0.3},{"x":3,"y":-7,"v":-0.3},{"x":4,"y":-7,"v":-0.3},{"x":5,"y":-7,"v":-0.2},
{"x":-6,"y":-8,"v":-1.1},{"x":-5,"y":-8,"v":-1.1},{"x":-4,"y":-8,"v":-0.8},{"x":-3,"y":-8,"v":-0.5},{"x":-2,"y":-8,"v":-0.2},{"x":-1,"y":-8,"v":0},{"x":0,"y":-8,"v":0.1},{"x":1,"y":-8,"v":0.1},{"x":2,"y":-8,"v":0.2},{"x":3,"y":-8,"v":0.2},{"x":4,"y":-8,"v":0.1},
{"x":-4,"y":-9,"v":-0.3},{"x":-3,"y":-9,"v":0},{"x":-2,"y":-9,"v":0.2},{"x":-1,"y":-9,"v":0.4},{"x":0,"y":-9,"v":0.5},{"x":1,"y":-9,"v":0.5},{"x":2,"y":-9,"v":0.5},{"x":3,"y":-9,"v":0.4},{"x":4,"y":-9,"v":0.3},{"x":5,"y":-9,"v":0.1},
{"x":-2,"y":-10,"v":0.1},{"x":-1,"y":-10,"v":0.2},{"x":0,"y":-10,"v":0.3},{"x":1,"y":-10,"v":0.3},{"x":2,"y":-10,"v":0.2}
],
"R":[
{"x":-5,"y":6,"v":0.2},{"x":-4,"y":6,"v":0.3},{"x":-3,"y":6,"v":0.2},{"x":-2,"y":6,"v":-0.3},{"x":-1,"y":6,"v":-0.5},{"x":0,"y":6,"v":-0.5},{"x":1,"y":6,"v":-0.4},{"x":2,"y":6,"v":-0.3},
{"x":-7,"y":5,"v":0.1},{"x":-6,"y":5,"v":0.3},{"x":-5,"y":5,"v":0.5},{"x":-4,"y":5,"v":0.5},{"x":-3,"y":5,"v":0.3},{"x":-2,"y":5,"v":-0.3},{"x":-1,"y":5,"v":-0.6},{"x":0,"y":5,"v":-0.6},{"x":1,"y":5,"v":-0.5},{"x":2,"y":5,"v":-0.3},
{"x":-7,"y":4,"v":0.2},{"x":-6,"y":4,"v":0.4},{"x":-5,"y":4,"v":0.7},{"x":-4,"y":4,"v":0.7},{"x":-3,"y":4,"v":0.3},{"x":-2,"y":4,"v":-0.4},{"x":-1,"y":4,"v":-0.7},{"x":0,"y":4,"v":-0.8},{"x":1,"y":4,"v":-0.5},{"x":2,"y":4,"v":-0.3},
{"x":-8,"y":3,"v":0.1},{"x":-7,"y":3,"v":0.3},{"x":-6,"y":3,"v":0.5},{"x":-5,"y":3,"v":0.7},{"x":-4,"y":3,"v":0.7},{"x":-3,"y":3,"v":0.3},{"x":-2,"y":3,"v":-0.4},{"x":-1,"y":3,"v":-0.8},{"x":0,"y":3,"v":-0.9},{"x":1,"y":3,"v":-0.6},{"x":2,"y":3,"v":-0.3},
{"x":-9,"y":2,"v":0},{"x":-8,"y":2,"v":0.1},{"x":-7,"y":2,"v":0.3},{"x":-6,"y":2,"v":0.4},{"x":-5,"y":2,"v":0.6},{"x":-4,"y":2,"v":0.5},{"x":-3,"y":2,"v":0.1},{"x":-2,"y":2,"v":-0.5},{"x":-1,"y":2,"v":-0.9},{"x":0,"y":2,"v":-1.1},{"x":1,"y":2,"v":-0.6},{"x":2,"y":2,"v":-0.3},
{"x":-10,"y":1,"v":-0.4},{"x":-9,"y":1,"v":-0.8},{"x":-8,"y":1,"v":-0.8},{"x":-7,"y":1,"v":-0.6},{"x":-6,"y":1,"v":-0.5},{"x":-5,"y":1,"v":-0.4},{"x":-4,"y":1,"v":-0.4},{"x":-3,"y":1,"v":-0.6},{"x":-2,"y":1,"v":-1},{"x":-1,"y":1,"v":-1.2},{"x":0,"y":1,"v":-1.2},{"x":1,"y":1,"v":-0.5},{"x":2,"y":1,"v":-0.2},
{"x":-10,"y":0,"v":-0.9},{"x":-9,"y":0,"v":-1.4},{"x":-8,"y":0,"v":-1.6},{"x":-7,"y":0,"v":-1.8},{"x":-6,"y":0,"v":-1.5},{"x":-5,"y":0,"v":-1.2},{"x":-4,"y":0,"v":-1},{"x":-3,"y":0,"v":-1.1},{"x":-2,"y":0,"v":-1.2},{"x":-1,"y":0,"v":-1.2},{"x":0,"y":0,"v":-0.9},{"x":1,"y":0,"v":-0.4},
{"x":-10,"y":-1,"v":-1},{"x":-9,"y":-1,"v":-1.8},{"x":-8,"y":-1,"v":-2.1},{"x":-7,"y":-1,"v":-2.9},{"x":-6,"y":-1,"v":-2.7},{"x":-5,"y":-1,"v":-1.9},{"x":-4,"y":-1,"v":-0.8},{"x":-3,"y":-1,"v":-0.4},{"x":-2,"y":-1,"v":-0.4},{"x":-1,"y":-1,"v":-0.5},{"x":0,"y":-1,"v":-0.4},{"x":1,"y":-1,"v":-0.2},
{"x":-10,"y":-2,"v":-1},{"x":-9,"y":-2,"v":-1.9},{"x":-8,"y":-2,"v":-2.6},{"x":-7,"y":-2,"v":-3.2},{"x":-6,"y":-2,"v":-2.8},{"x":-5,"y":-2,"v":-1},{"x":-4,"y":-2,"v":0.1},{"x":-3,"y":-2,"v":0.8},{"x":-2,"y":-2,"v":0.7},{"x":-1,"y":-2,"v":0.4},{"x":0,"y":-2,"v":0.1},{"x":1,"y":-2,"v":-0.1},
{"x":-10,"y":-3,"v":-0.9},{"x":-9,"y":-3,"v":-1.9},{"x":-8,"y":-3,"v":-2.8},{"x":-7,"y":-3,"v":-3.2},{"x":-6,"y":-3,"v":-1.9},{"x":-5,"y":-3,"v":0},{"x":-4,"y":-3,"v":1.2},{"x":-3,"y":-3,"v":1.9},{"x":-2,"y":-3,"v":1.6},{"x":-1,"y":-3,"v":1.1},{"x":0,"y":-3,"v":0.8},{"x":1,"y":-3,"v":0.4},{"x":2,"y":-3,"v":0.2},{"x":3,"y":-3,"v":0},{"x":4,"y":-3,"v":-0.2},{"x":5,"y":-3,"v":-0.3},{"x":6,"y":-3,"v":-0.5},{"x":7,"y":-3,"v":-0.9},{"x":8,"y":-3,"v":-0.5},
{"x":-10,"y":-4,"v":-0.6},{"x":-9,"y":-4,"v":-1.7},{"x":-8,"y":-4,"v":-2.8},{"x":-7,"y":-4,"v":-2.6},{"x":-6,"y":-4,"v":-1.2},{"x":-5,"y":-4,"v":0.7},{"x":-4,"y":-4,"v":2},{"x":-3,"y":-4,"v":2.9},{"x":-2,"y":-4,"v":2.5},{"x":-1,"y":-4,"v":1.7},{"x":0,"y":-4,"v":1.3},{"x":1,"y":-4,"v":1},{"x":2,"y":-4,"v":0.7},{"x":3,"y":-4,"v":0.5},{"x":4,"y":-4,"v":0.3},{"x":5,"y":-4,"v":0},{"x":6,"y":-4,"v":-0.3},{"x":7,"y":-4,"v":-0.7},{"x":8,"y":-4,"v":-0.4},
{"x":-9,"y":-5,"v":-1.3},{"x":-8,"y":-5,"v":-1.9},{"x":-7,"y":-5,"v":-1.6},{"x":-6,"y":-5,"v":-0.8},{"x":-5,"y":-5,"v":1},{"x":-4,"y":-5,"v":2.1},{"x":-3,"y":-5,"v":3.2},{"x":-2,"y":-5,"v":2.9},{"x":-1,"y":-5,"v":2},{"x":0,"y":-5,"v":1.6},{"x":1,"y":-5,"v":1.5},{"x":2,"y":-5,"v":1.4},{"x":3,"y":-5,"v":1.2},{"x":4,"y":-5,"v":0.9},{"x":5,"y":-5,"v":0.6},{"x":6,"y":-5,"v":0.1},{"x":7,"y":-5,"v":-0.2},
{"x":-8,"y":-6,"v":-1.3},{"x":-7,"y":-6,"v":-1.3},{"x":-6,"y":-6,"v":-0.6},{"x":-5,"y":-6,"v":0.6},{"x":-4,"y":-6,"v":1.7},{"x":-3,"y":-6,"v":2.6},{"x":-2,"y":-6,"v":2.6},{"x":-1,"y":-6,"v":2.1},{"x":0,"y":-6,"v":2},{"x":1,"y":-6,"v":2.2},{"x":2,"y":-6,"v":2.3},{"x":3,"y":-6,"v":2.5},{"x":4,"y":-6,"v":2.4},{"x":5,"y":-6,"v":1.8},{"x":6,"y":-6,"v":1.2},{"x":7,"y":-6,"v":0.4},{"x":8,"y":-6,"v":0},
{"x":-7,"y":-7,"v":-1.1},{"x":-6,"y":-7,"v":-0.7},{"x":-5,"y":-7,"v":0.2},{"x":-4,"y":-7,"v":1},{"x":-3,"y":-7,"v":1.8},{"x":-2,"y":-7,"v":2},{"x":-1,"y":-7,"v":2},{"x":0,"y":-7,"v":2.3},{"x":1,"y":-7,"v":2.8},{"x":2,"y":-7,"v":3.1},{"x":3,"y":-7,"v":3.2},{"x":4,"y":-7,"v":3.2},{"x":5,"y":-7,"v":2.8},{"x":6,"y":-7,"v":1.7},{"x":7,"y":-7,"v":0.7},{"x":8,"y":-7,"v":0.1},
{"x":-6,"y":-8,"v":-0.4},{"x":-5,"y":-8,"v":0},{"x":-4,"y":-8,"v":0.6},{"x":-3,"y":-8,"v":1.2},{"x":-2,"y":-8,"v":1.5},{"x":-1,"y":-8,"v":1.7},{"x":0,"y":-8,"v":1.9},{"x":1,"y":-8,"v":2.3},{"x":2,"y":-8,"v":2.6},{"x":3,"y":-8,"v":2.7},{"x":4,"y":-8,"v":2.5},{"x":5,"y":-8,"v":1.9},{"x":6,"y":-8,"v":1},{"x":7,"y":-8,"v":0.3},
{"x":-4,"y":-9,"v":0.2},{"x":-3,"y":-9,"v":0.8},{"x":-2,"y":-9,"v":1},{"x":-1,"y":-9,"v":1.2},{"x":0,"y":-9,"v":1.3},{"x":1,"y":-9,"v":1.4},{"x":2,"y":-9,"v":1.5},{"x":3,"y":-9,"v":1.5},{"x":4,"y":-9,"v":1.3},{"x":5,"y":-9,"v":1},{"x":6,"y":-9,"v":0.4},
{"x":-2,"y":-10,"v":0.3},{"x":-1,"y":-10,"v":0.5},{"x":0,"y":-10,"v":0.6},{"x":1,"y":-10,"v":0.6},{"x":2,"y":-10,"v":0.5},{"x":3,"y":-10,"v":0.3}
],
"ctrL":[
{"c":1,"o":0,"x":-4.58,"y":4.9},{"c":1,"o":1,"x":-5.63,"y":4.48},{"c":1,"o":2,"x":-6.67,"y":3.52},{"c":1,"o":3,"x":-7.42,"y":1.85},{"c":1,"o":4,"x":-9.17,"y":1.23},{"c":1,"o":5,"x":-9.33,"y":0.19},{"c":1,"o":6,"x":-8.96,"y":-2.1},{"c":1,"o":7,"x":-8.13,"y":-3.23},{"c":1,"o":8,"x":-6.88,"y":-3.15},{"c":1,"o":9,"x":-5.63,"y":-2.4},{"c":1,"o":10,"x":-4.17,"y":-0.23},{"c":1,"o":11,"x":-3.54,"y":0.81},{"c":1,"o":12,"x":-2.58,"y":1.73},{"c":1,"o":13,"x":-3.13,"y":3.1},{"c":1,"o":14,"x":-3.96,"y":4.56},
{"c":2,"o":0,"x":-1.88,"y":0.73},{"c":2,"o":1,"x":-2.71,"y":0.19},{"c":2,"o":2,"x":-3.13,"y":-1.06},{"c":2,"o":3,"x":-5,"y":-2.31},{"c":2,"o":4,"x":-6.25,"y":-3.56},{"c":2,"o":5,"x":-6.67,"y":-4.6},{"c":2,"o":6,"x":-7.17,"y":-6.27},{"c":2,"o":7,"x":-6.46,"y":-7.73},{"c":2,"o":8,"x":-5,"y":-8.23},{"c":2,"o":9,"x":-3.54,"y":-7.52},{"c":2,"o":10,"x":-2.08,"y":-6.69},{"c":2,"o":11,"x":0,"y":-5.94},{"c":2,"o":12,"x":2.92,"y":-5.77},{"c":2,"o":13,"x":5,"y":-5.02},{"c":2,"o":14,"x":6.25,"y":-3.56},{"c":2,"o":15,"x":6.04,"y":-2.52},{"c":2,"o":16,"x":5,"y":-1.06},{"c":2,"o":17,"x":3.33,"y":-0.98},{"c":2,"o":18,"x":1.25,"y":-0.98},{"c":2,"o":19,"x":0.42,"y":-0.02},{"c":2,"o":20,"x":-0.83,"y":0.73},
{"c":3,"o":0,"x":-2.29,"y":-1.1},{"c":3,"o":1,"x":-3.54,"y":-1.69},{"c":3,"o":2,"x":-5.21,"y":-3.35},{"c":3,"o":3,"x":-5.63,"y":-5.23},{"c":3,"o":4,"x":-5,"y":-6.06},{"c":3,"o":5,"x":-3.54,"y":-5.98},{"c":3,"o":6,"x":-2.08,"y":-5.44},{"c":3,"o":7,"x":-1.33,"y":-4.19},{"c":3,"o":8,"x":-1.46,"y":-2.52},{"c":3,"o":9,"x":-1.88,"y":-1.35},
{"c":4,"o":0,"x":-3.4,"y":-3.1},{"c":4,"o":1,"x":-3.1,"y":-3.6},{"c":4,"o":2,"x":-3.4,"y":-4},{"c":4,"o":3,"x":-3.8,"y":-3.8},{"c":4,"o":4,"x":-3.7,"y":-3.3}
],
"ctrR":[
{"c":1,"o":0,"x":-9.29,"y":1.23},{"c":1,"o":1,"x":-9.63,"y":0.19},{"c":1,"o":2,"x":-9.79,"y":-2.1},{"c":1,"o":3,"x":-9.5,"y":-3.35},{"c":1,"o":4,"x":-8.04,"y":-5.44},{"c":1,"o":5,"x":-6.79,"y":-7.1},{"c":1,"o":6,"x":-6.38,"y":-7.73},{"c":1,"o":7,"x":-6.04,"y":-7.31},{"c":1,"o":8,"x":-6.38,"y":-5.44},{"c":1,"o":9,"x":-6.17,"y":-3.56},{"c":1,"o":10,"x":-4.5,"y":-0.94},{"c":1,"o":11,"x":-2.83,"y":0.19},{"c":1,"o":12,"x":-0.96,"y":-0.23},{"c":1,"o":13,"x":0.08,"y":1.23},{"c":1,"o":14,"x":-0.21,"y":1.98},{"c":1,"o":15,"x":-1.38,"y":1.44},{"c":1,"o":16,"x":-2.83,"y":0.48},{"c":1,"o":17,"x":-4.5,"y":0.31},{"c":1,"o":18,"x":-6.79,"y":0.9},
{"c":2,"o":0,"x":-7,"y":-0.23},{"c":2,"o":1,"x":-7.42,"y":-1.9},{"c":2,"o":2,"x":-8.46,"y":-3.77},{"c":2,"o":3,"x":-7.83,"y":-4.27},{"c":2,"o":4,"x":-6.17,"y":-2.94},{"c":2,"o":5,"x":-4.58,"y":-0.98},{"c":2,"o":6,"x":-5.96,"y":-0.35},
{"c":3,"o":0,"x":-3.04,"y":-1.77},{"c":3,"o":1,"x":-4.71,"y":-2.73},{"c":3,"o":2,"x":-5.21,"y":-3.77},{"c":3,"o":3,"x":-4.71,"y":-5.44},{"c":3,"o":4,"x":-3.88,"y":-7.52},{"c":3,"o":5,"x":-3.25,"y":-9.19},{"c":3,"o":6,"x":-0.13,"y":-9.73},{"c":3,"o":7,"x":3.21,"y":-9.6},{"c":3,"o":8,"x":5.71,"y":-9.19},{"c":3,"o":9,"x":6.96,"y":-7.73},{"c":3,"o":10,"x":6.96,"y":-6.69},{"c":3,"o":11,"x":6.13,"y":-5.02},{"c":3,"o":12,"x":4.04,"y":-4.52},{"c":3,"o":13,"x":1.54,"y":-4.27},{"c":3,"o":14,"x":-0.13,"y":-2.94},{"c":3,"o":15,"x":-1.79,"y":-2.52},
{"c":4,"o":0,"x":-3.67,"y":-3.23},{"c":4,"o":1,"x":-3.88,"y":-4.19},{"c":4,"o":2,"x":-3.25,"y":-5.44},{"c":4,"o":3,"x":-2.21,"y":-6.4},{"c":4,"o":4,"x":-1.79,"y":-6.06},{"c":4,"o":5,"x":-2,"y":-4.6},{"c":4,"o":6,"x":-2.63,"y":-3.56},
{"c":5,"o":0,"x":0.63,"y":-7.31},{"c":5,"o":1,"x":1.96,"y":-7.94},{"c":5,"o":2,"x":4.25,"y":-8.02},{"c":5,"o":3,"x":5.5,"y":-7.1},{"c":5,"o":4,"x":5.08,"y":-6.27},{"c":5,"o":5,"x":3.63,"y":-6.15},{"c":5,"o":6,"x":1.54,"y":-6.69}
],
"sens":[{"x":-4.29,"y":1.6},{"x":-0.17,"y":1.81},{"x":3.83,"y":0.98},{"x":-1.79,"y":-0.15},{"x":1.33,"y":-0.56},{"x":5.21,"y":-1.06},{"x":-5.54,"y":-1.27},{"x":-3.67,"y":-3.44},{"x":-0.79,"y":-4.15},{"x":2.83,"y":-3.77},{"x":6.58,"y":-3.9},{"x":-7.92,"y":-4.15},{"x":-6.33,"y":-7.52},{"x":-1.17,"y":-7.9},{"x":4.96,"y":-7.15}],
"head":[
{"p":"nose","o":0,"x":-1.88,"y":10.5},{"p":"nose","o":1,"x":-0.05,"y":12.15},{"p":"nose","o":2,"x":1.88,"y":10.5},
{"p":"le","o":0,"x":-10.5,"y":2.95},{"p":"le","o":1,"x":-11.2,"y":2.95},{"p":"le","o":2,"x":-11.7,"y":2.4},{"p":"le","o":3,"x":-11.65,"y":1},{"p":"le","o":4,"x":-11.8,"y":-0.9},{"p":"le","o":5,"x":-11.5,"y":-1.5},{"p":"le","o":6,"x":-10.5,"y":-1.7},{"p":"le","o":7,"x":-10.65,"y":-0.5},{"p":"le","o":8,"x":-10.7,"y":1.2},{"p":"le","o":9,"x":-10.5,"y":2.95},
{"p":"re","o":0,"x":10.5,"y":2.95},{"p":"re","o":1,"x":11.2,"y":2.95},{"p":"re","o":2,"x":11.7,"y":2.4},{"p":"re","o":3,"x":11.65,"y":1},{"p":"re","o":4,"x":11.8,"y":-0.9},{"p":"re","o":5,"x":11.5,"y":-1.5},{"p":"re","o":6,"x":10.5,"y":-1.7},{"p":"re","o":7,"x":10.65,"y":-0.5},{"p":"re","o":8,"x":10.7,"y":1.2},{"p":"re","o":9,"x":10.5,"y":2.95}
],
"cb":[{"v":-4,"w":-3.8},{"v":-3.8,"w":-3.6},{"v":-3.6,"w":-3.4},{"v":-3.4,"w":-3.2},{"v":-3.2,"w":-3},{"v":-3,"w":-2.8},{"v":-2.8,"w":-2.6},{"v":-2.6,"w":-2.4},{"v":-2.4,"w":-2.2},{"v":-2.2,"w":-2},{"v":-2,"w":-1.8},{"v":-1.8,"w":-1.6},{"v":-1.6,"w":-1.4},{"v":-1.4,"w":-1.2},{"v":-1.2,"w":-1},{"v":-1,"w":-0.8},{"v":-0.8,"w":-0.6},{"v":-0.6,"w":-0.4},{"v":-0.4,"w":-0.2},{"v":-0.2,"w":0},{"v":0,"w":0.2},{"v":0.2,"w":0.4},{"v":0.4,"w":0.6},{"v":0.6,"w":0.8},{"v":0.8,"w":1},{"v":1,"w":1.2},{"v":1.2,"w":1.4},{"v":1.4,"w":1.6},{"v":1.6,"w":1.8},{"v":1.8,"w":2},{"v":2,"w":2.2},{"v":2.2,"w":2.4},{"v":2.4,"w":2.6},{"v":2.6,"w":2.8},{"v":2.8,"w":3},{"v":3,"w":3.2},{"v":3.2,"w":3.4},{"v":3.4,"w":3.6},{"v":3.6,"w":3.8},{"v":3.8,"w":4}]
},
"vconcat":[
{"width":699,"height":205,
"layer":[
{"data":{"name":"lines"},"mark":{"type":"line","strokeWidth":1.5,"interpolate":"catmull-rom","clip":true},
"encoding":{"x":{"field":"t","type":"quantitative","scale":{"domain":[-0.3,0.5],"nice":false,"zero":false},
"axis":{"title":"Time [s]","titleFontSize":15,"titleFontWeight":"normal","titlePadding":10,"labelFontSize":12.7,"values":[-0.3,-0.2,-0.1,0,0.1,0.2,0.3,0.4,0.5],"tickCount":12,"format":".1f","labelExpr":"replace(datum.label,'−','-')","labelOverlap":false,"grid":true,"gridColor":"#d2d2d2","gridWidth":1.5,"domainColor":"#262626","domainWidth":2,"tickColor":"#262626","tickWidth":1.5,"tickSize":5,"labelPadding":8}},
"y":{"field":"v","type":"quantitative","scale":{"domain":[-6.75,6.3],"nice":false,"zero":false},
"axis":{"title":"Magnetic field [T]","titleFontSize":15,"titleFontWeight":"normal","titlePadding":5,"labelFontSize":12.7,"values":[-6,-4,-2,0,2,4,6],"tickCount":10,"format":"d","labelExpr":"replace(datum.label,'−','-')","labelOverlap":false,"grid":true,"gridColor":"#d2d2d2","gridWidth":1.5,"domainColor":"#262626","domainWidth":2,"tickColor":"#262626","tickWidth":1.5,"tickSize":5,"labelPadding":5}},
"color":{"field":"s","type":"nominal","legend":null,"scale":{"range":["#0072BD","#D95319","#EDB120","#7E2F8E","#77AC30","#4DBEEE","#A2142F"]}},
"order":{"field":"t","type":"quantitative"}}},
{"data":{"values":[{"t":0.02}]},"mark":{"type":"rule","color":"#000000","strokeWidth":2},"encoding":{"x":{"field":"t","type":"quantitative"}}},
{"data":{"values":[{"t":-0.299,"v":6.72,"l":"×10"}]},"mark":{"type":"text","align":"left","baseline":"middle","fontSize":14,"color":"#404040"},"encoding":{"x":{"field":"t","type":"quantitative"},"y":{"field":"v","type":"quantitative"},"text":{"field":"l"}}},
{"data":{"values":[{"t":-0.266,"v":7.1,"l":"-13"}]},"mark":{"type":"text","align":"left","baseline":"middle","fontSize":11.5,"color":"#404040"},"encoding":{"x":{"field":"t","type":"quantitative"},"y":{"field":"v","type":"quantitative"},"text":{"field":"l"}}},
{"data":{"values":[{"t":0.1,"v":7,"l":"Stimulus-triggered average"}]},"mark":{"type":"text","baseline":"middle","fontSize":15.2,"fontWeight":"bold","color":"#000000"},"encoding":{"x":{"field":"t","type":"quantitative"},"y":{"field":"v","type":"quantitative"},"text":{"field":"l"}}}
]},
{"bounds":"flush","spacing":18,"hconcat":[
{"width":219,"height":205,"encoding":{"x":{"field":"x","type":"quantitative","axis":null,"scale":{"domain":[-14.875,12.5],"nice":false,"zero":false}},"y":{"field":"y","type":"quantitative","axis":null,"scale":{"domain":[-12.8125,12.8125],"nice":false,"zero":false}}},
"layer":[
{"data":{"values":[{"x":0,"y":0,"v":-0.1}]},"mark":{"type":"point","shape":"circle","filled":true,"opacity":1,"size":28696,"strokeWidth":0},"encoding":{"color":{"field":"v","type":"quantitative","legend":null,"scale":{"domain":[-4,-2.857,-1.714,-0.571,0.571,1.714,2.857,4],"range":["#3E26A8","#4852F4","#2E87F7","#12B1D6","#37C897","#ABC739","#FEC338","#F9FB15"]}}}},
{"data":{"name":"L"},"mark":{"type":"point","shape":"square","filled":true,"opacity":1,"size":72,"strokeWidth":0},"encoding":{"color":{"field":"v","type":"quantitative","legend":null,"scale":{"domain":[-4,-2.857,-1.714,-0.571,0.571,1.714,2.857,4],"range":["#3E26A8","#4852F4","#2E87F7","#12B1D6","#37C897","#ABC739","#FEC338","#F9FB15"]}}}},
{"data":{"name":"L"},"mark":{"type":"point","shape":"circle","filled":true,"opacity":0.35,"size":260,"strokeWidth":0},"encoding":{"color":{"field":"v","type":"quantitative","legend":null,"scale":{"domain":[-4,-2.857,-1.714,-0.571,0.571,1.714,2.857,4],"range":["#3E26A8","#4852F4","#2E87F7","#12B1D6","#37C897","#ABC739","#FEC338","#F9FB15"]}}}},
{"data":{"values":[{"x":0,"y":0}]},"mark":{"type":"point","shape":"circle","filled":false,"opacity":1,"size":33856,"stroke":"white","strokeWidth":14}},
{"data":{"values":[{"x":0,"y":0}]},"mark":{"type":"point","shape":"circle","filled":false,"opacity":1,"size":28696,"stroke":"#000000","strokeWidth":2}},
{"data":{"name":"ctrL"},"mark":{"type":"line","interpolate":"cardinal-closed","tension":0.3,"color":"#000000","strokeWidth":1},"encoding":{"detail":{"field":"c"},"order":{"field":"o","type":"quantitative"}}},
{"data":{"name":"sens"},"mark":{"type":"point","shape":"triangle-right","filled":true,"opacity":1,"size":26,"color":"#000000","strokeWidth":0}},
{"data":{"name":"head"},"mark":{"type":"line","color":"#000000","strokeWidth":2},"encoding":{"detail":{"field":"p"},"order":{"field":"o","type":"quantitative"}}},
{"data":{"values":[{"x":0,"y":14.2,"l":"0.02 s (-Z)"}]},"mark":{"type":"text","fontSize":14.5,"fontWeight":"bold","color":"#000000","baseline":"middle"},"encoding":{"text":{"field":"l"}}}
]},
{"width":20,"height":205,"view":{"stroke":"#262626","strokeWidth":1},"encoding":{"y":{"field":"v","type":"quantitative","scale":{"domain":[-4,4],"nice":false,"zero":false},"axis":{"orient":"right","title":null,"values":[-4,-2,0,2,4],"format":"d","labelExpr":"replace(datum.label,'−','-')","labelOverlap":false,"labelFontSize":11.5,"labelPadding":7,"tickSize":-3,"tickColor":"#262626","domain":false,"labelBound":false}}},
"layer":[
{"data":{"name":"cb"},"mark":{"type":"rect","strokeWidth":1},"encoding":{"y2":{"field":"w"},"color":{"field":"v","type":"quantitative","legend":null,"scale":{"domain":[-4,-2.857,-1.714,-0.571,0.571,1.714,2.857,4],"range":["#3E26A8","#4852F4","#2E87F7","#12B1D6","#37C897","#ABC739","#FEC338","#F9FB15"]}},"stroke":{"field":"v","type":"quantitative","legend":null,"scale":{"domain":[-4,-2.857,-1.714,-0.571,0.571,1.714,2.857,4],"range":["#3E26A8","#4852F4","#2E87F7","#12B1D6","#37C897","#ABC739","#FEC338","#F9FB15"]}}}},
{"data":{"values":[{"a":1.1,"v":4.43,"l":"×10"}]},"mark":{"type":"text","align":"left","baseline":"middle","fontSize":11.5,"color":"#404040"},"encoding":{"x":{"field":"a","type":"quantitative","axis":null,"scale":{"domain":[0,1],"nice":false,"zero":false}},"text":{"field":"l"}}},
{"data":{"values":[{"a":2.25,"v":4.58,"l":"-13"}]},"mark":{"type":"text","align":"left","baseline":"middle","fontSize":10,"color":"#404040"},"encoding":{"x":{"field":"a","type":"quantitative","axis":null,"scale":{"domain":[0,1],"nice":false,"zero":false}},"text":{"field":"l"}}}
]},
{"width":340,"height":205,"encoding":{"x":{"field":"x","type":"quantitative","axis":null,"scale":{"domain":[-30,12.5],"nice":false,"zero":false}},"y":{"field":"y","type":"quantitative","axis":null,"scale":{"domain":[-12.8125,12.8125],"nice":false,"zero":false}}},
"layer":[
{"data":{"values":[{"x":0,"y":0,"v":-0.2}]},"mark":{"type":"point","shape":"circle","filled":true,"opacity":1,"size":28696,"strokeWidth":0},"encoding":{"color":{"field":"v","type":"quantitative","legend":null,"scale":{"domain":[-4,-2.857,-1.714,-0.571,0.571,1.714,2.857,4],"range":["#3E26A8","#4852F4","#2E87F7","#12B1D6","#37C897","#ABC739","#FEC338","#F9FB15"]}}}},
{"data":{"name":"R"},"mark":{"type":"point","shape":"square","filled":true,"opacity":1,"size":72,"strokeWidth":0},"encoding":{"color":{"field":"v","type":"quantitative","legend":null,"scale":{"domain":[-4,-2.857,-1.714,-0.571,0.571,1.714,2.857,4],"range":["#3E26A8","#4852F4","#2E87F7","#12B1D6","#37C897","#ABC739","#FEC338","#F9FB15"]}}}},
{"data":{"name":"R"},"mark":{"type":"point","shape":"circle","filled":true,"opacity":0.35,"size":260,"strokeWidth":0},"encoding":{"color":{"field":"v","type":"quantitative","legend":null,"scale":{"domain":[-4,-2.857,-1.714,-0.571,0.571,1.714,2.857,4],"range":["#3E26A8","#4852F4","#2E87F7","#12B1D6","#37C897","#ABC739","#FEC338","#F9FB15"]}}}},
{"data":{"values":[{"x":0,"y":0}]},"mark":{"type":"point","shape":"circle","filled":false,"opacity":1,"size":33856,"stroke":"white","strokeWidth":14}},
{"data":{"values":[{"x":0,"y":0}]},"mark":{"type":"point","shape":"circle","filled":false,"opacity":1,"size":28696,"stroke":"#000000","strokeWidth":2}},
{"data":{"name":"ctrR"},"mark":{"type":"line","interpolate":"cardinal-closed","tension":0.3,"color":"#000000","strokeWidth":1},"encoding":{"detail":{"field":"c"},"order":{"field":"o","type":"quantitative"}}},
{"data":{"name":"sens"},"mark":{"type":"point","shape":"triangle-right","filled":true,"opacity":1,"size":26,"color":"#000000","strokeWidth":0}},
{"data":{"name":"head"},"mark":{"type":"line","color":"#000000","strokeWidth":2},"encoding":{"detail":{"field":"p"},"order":{"field":"o","type":"quantitative"}}},
{"data":{"values":[{"x":0,"y":14.2,"l":"0.02 s (Y)"}]},"mark":{"type":"text","fontSize":14.5,"fontWeight":"bold","color":"#000000","baseline":"middle"},"encoding":{"text":{"field":"l"}}}
]},
{"width":20,"height":205,"view":{"stroke":"#262626","strokeWidth":1},"encoding":{"y":{"field":"v","type":"quantitative","scale":{"domain":[-4,4],"nice":false,"zero":false},"axis":{"orient":"right","title":null,"values":[-4,-2,0,2,4],"format":"d","labelExpr":"replace(datum.label,'−','-')","labelOverlap":false,"labelFontSize":11.5,"labelPadding":7,"tickSize":-3,"tickColor":"#262626","domain":false,"labelBound":false}}},
"layer":[
{"data":{"name":"cb"},"mark":{"type":"rect","strokeWidth":1},"encoding":{"y2":{"field":"w"},"color":{"field":"v","type":"quantitative","legend":null,"scale":{"domain":[-4,-2.857,-1.714,-0.571,0.571,1.714,2.857,4],"range":["#3E26A8","#4852F4","#2E87F7","#12B1D6","#37C897","#ABC739","#FEC338","#F9FB15"]}},"stroke":{"field":"v","type":"quantitative","legend":null,"scale":{"domain":[-4,-2.857,-1.714,-0.571,0.571,1.714,2.857,4],"range":["#3E26A8","#4852F4","#2E87F7","#12B1D6","#37C897","#ABC739","#FEC338","#F9FB15"]}}}},
{"data":{"values":[{"a":1.1,"v":4.43,"l":"×10"}]},"mark":{"type":"text","align":"left","baseline":"middle","fontSize":11.5,"color":"#404040"},"encoding":{"x":{"field":"a","type":"quantitative","axis":null,"scale":{"domain":[0,1],"nice":false,"zero":false}},"text":{"field":"l"}}},
{"data":{"values":[{"a":2.25,"v":4.58,"l":"-13"}]},"mark":{"type":"text","align":"left","baseline":"middle","fontSize":10,"color":"#404040"},"encoding":{"x":{"field":"a","type":"quantitative","axis":null,"scale":{"domain":[0,1],"nice":false,"zero":false}},"text":{"field":"l"}}}
]}
]}
]}
